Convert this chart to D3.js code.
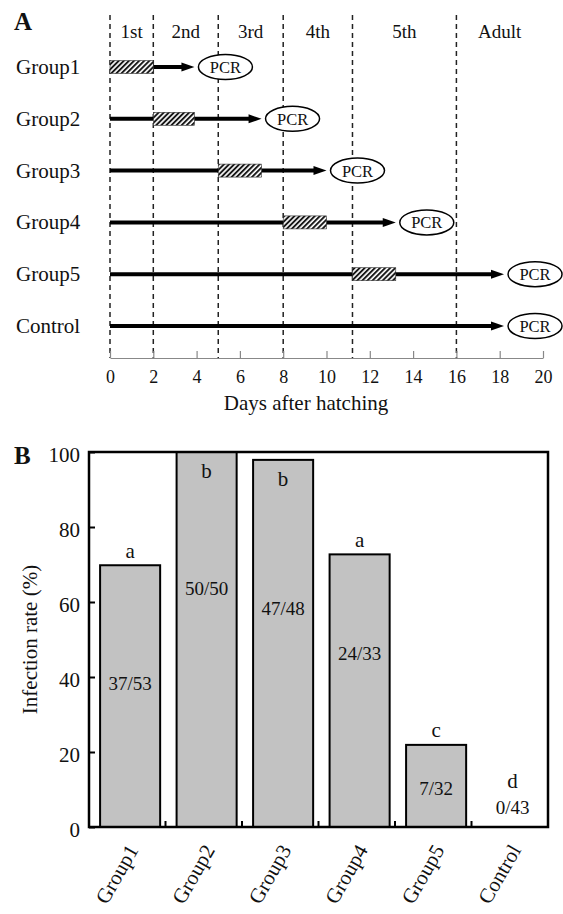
<!DOCTYPE html>
<html>
<head>
<meta charset="utf-8">
<script src="https://cdn.jsdelivr.net/npm/d3@7"></script>
<style>
  body { margin: 0; background: #fff; }
  text { font-family: "Liberation Serif", "Times New Roman", serif; fill: #111; }
</style>
</head>
<body>
<div id="chart"></div>
<script>
// ---- panel A: feeding schedule, days after hatching
const groups = ["Group1", "Group2", "Group3", "Group4", "Group5", "Control"];
const feedStart = [0, 2, 5, 8, 11.2, null];
const feedEnd = [2, 3.9, 7, 10, 13.2, null];
const pcrDay = [3.9, 7, 10, 13.2, 18.2, 18.2];   // arrow tip, PCR sits right after
const stageBounds = [0, 2, 5, 8, 11.2, 16];
const stages = ["1st", "2nd", "3rd", "4th", "5th", "Adult"];
const dayTicks = [0, 2, 4, 6, 8, 10, 12, 14, 16, 18, 20];

// ---- panel B: infection rate
const rate = [69.8, 100, 97.9, 72.7, 21.9, 0];
const counts = ["37/53", "50/50", "47/48", "24/33", "7/32", "0/43"];
const letters = ["a", "b", "b", "a", "c", "d"];
const countAt = [38.4, 63.7, 58.4, 46.4, 10.4, 5.3];   // where the n/N label sits (%)
const rateTicks = [0, 20, 40, 60, 80, 100];

const W = 563, H = 914;

const svg = d3.select("#chart")
  .append("svg")
    .attr("width", W)
    .attr("height", H)
    .style("background", "#fff");

// hatch pattern for the feeding period
svg.append("defs")
  .append("pattern")
    .attr("id", "hatch")
    .attr("patternUnits", "userSpaceOnUse")
    .attr("width", 3.6)
    .attr("height", 3.6)
    .attr("patternTransform", "rotate(45)")
  .call(p => {
    p.append("rect").attr("width", 3.6).attr("height", 3.6).attr("fill", "#fff");
    p.append("line").attr("x1", 1).attr("x2", 1).attr("y1", 0).attr("y2", 3.6)
      .attr("stroke", "#111").attr("stroke-width", 1.9);
  });

// ================= A =================
const x = d3.scaleLinear().domain([0, 20]).range([110, 543]);
const row = d3.scalePoint().domain(groups).range([67, 326]);
const axisY = 358;

svg.append("text")
  .attr("x", 14).attr("y", 30)
  .style("font-size", "25px").style("font-weight", "bold")
  .text("A");

// stage boundaries
svg.selectAll(".stage-line")
  .data(stageBounds)
  .join("line")
    .attr("x1", d => x(d)).attr("x2", d => x(d))
    .attr("y1", 15).attr("y2", axisY)
    .attr("stroke", "#222")
    .attr("stroke-width", 1.5)
    .attr("stroke-dasharray", "5,4");

// stage names centred in each stage
svg.selectAll(".stage-label")
  .data(stages)
  .join("text")
    .attr("x", (d, i) => (x(stageBounds[i]) + x(i < stages.length - 1 ? stageBounds[i + 1] : 20)) / 2)
    .attr("y", 38)
    .attr("text-anchor", "middle")
    .style("font-size", "19px")
    .text(d => d);

// axis
const gx = svg.append("g")
  .attr("transform", `translate(0, ${axisY})`)
  .call(d3.axisBottom(x).tickValues(dayTicks).tickSize(-7).tickPadding(12).tickSizeOuter(0));
gx.select(".domain").attr("stroke", "#888").attr("stroke-width", 1.2);
gx.selectAll(".tick line").attr("stroke", "#888").attr("stroke-width", 1.2);
gx.selectAll(".tick text")
  .style("font-family", "'Liberation Serif', serif")
  .style("font-size", "18px")
  .attr("fill", "#111");

svg.append("text")
  .attr("x", 306).attr("y", 410)
  .attr("text-anchor", "middle")
  .style("font-size", "21px")
  .text("Days after hatching");

// one row per group
groups.forEach((g, i) => {
  const yy = row(g);
  const tip = x(pcrDay[i]);

  svg.append("text")
    .attr("x", 16).attr("y", yy + 7)
    .style("font-size", "21px")
    .text(g);

  svg.append("line")
    .attr("x1", x(0)).attr("x2", tip - 10)
    .attr("y1", yy).attr("y2", yy)
    .attr("stroke", "#000").attr("stroke-width", 4);

  svg.append("path")
    .attr("d", `M${tip - 13},${yy - 4.5} L${tip},${yy} L${tip - 13},${yy + 4.5} Z`)
    .attr("fill", "#000");

  if (feedStart[i] !== null) {
    svg.append("rect")
      .attr("x", x(feedStart[i]))
      .attr("y", yy - 6.5)
      .attr("width", x(feedEnd[i]) - x(feedStart[i]))
      .attr("height", 13)
      .attr("fill", "url(#hatch)")
      .attr("stroke", "#333")
      .attr("stroke-width", 0.6);
  }

  svg.append("ellipse")
    .attr("cx", tip + 31).attr("cy", yy)
    .attr("rx", 27).attr("ry", 12.5)
    .attr("fill", "#fff")
    .attr("stroke", "#000")
    .attr("stroke-width", 1.5);

  svg.append("text")
    .attr("x", tip + 31).attr("y", yy + 6)
    .attr("text-anchor", "middle")
    .style("font-size", "16.5px")
    .text("PCR");
});

// ================= B =================
const bLeft = 89, bRight = 548, bTop = 452, bBottom = 827;
const xb = d3.scaleBand().domain(groups).range([bLeft, bRight]);
const y = d3.scaleLinear().domain([0, 100]).range([bBottom, bTop]);
const bw = xb.bandwidth();

svg.append("text")
  .attr("x", 14).attr("y", 464)
  .style("font-size", "25px").style("font-weight", "bold")
  .text("B");

// bars
svg.selectAll(".bar")
  .data(groups)
  .join("rect")
    .attr("x", d => xb(d) + bw * 0.145)
    .attr("width", bw * 0.785)
    .attr("y", (d, i) => y(rate[i]))
    .attr("height", (d, i) => y(0) - y(rate[i]))
    .attr("fill", "#c2c2c2")
    .attr("stroke", "#000")
    .attr("stroke-width", 2);

// frame
svg.append("rect")
  .attr("x", bLeft).attr("y", bTop)
  .attr("width", bRight - bLeft).attr("height", bBottom - bTop)
  .attr("fill", "none")
  .attr("stroke", "#000")
  .attr("stroke-width", 2.5);

// y axis, ticks pointing inside
const gy = svg.append("g")
  .attr("transform", `translate(${bLeft}, 0)`)
  .call(d3.axisLeft(y).tickValues(rateTicks).tickSizeInner(-6).tickSizeOuter(0).tickPadding(9));
gy.select(".domain").remove();
gy.selectAll(".tick line").attr("stroke", "#000").attr("stroke-width", 2);
gy.selectAll(".tick text")
  .style("font-family", "'Liberation Serif', serif")
  .style("font-size", "21px")
  .attr("fill", "#111")
  .attr("dy", "0.45em");

svg.append("text")
  .attr("transform", `translate(30, ${(bTop + bBottom) / 2}) rotate(-90)`)
  .attr("text-anchor", "middle")
  .attr("dy", "0.35em")
  .style("font-size", "21px")
  .text("Infection rate (%)");

// category separators on the bottom edge
svg.selectAll(".sep")
  .data(groups.slice(1))
  .join("line")
    .attr("x1", d => xb(d)).attr("x2", d => xb(d))
    .attr("y1", bBottom).attr("y2", bBottom - 6)
    .attr("stroke", "#000").attr("stroke-width", 2);

// significance letters
svg.selectAll(".letter")
  .data(letters)
  .join("text")
    .attr("x", (d, i) => xb(groups[i]) + bw * 0.145 + bw * 0.785 / 2)
    .attr("y", (d, i) => {
      if (rate[i] === 0) return y(0) - 45;
      return rate[i] > 90 ? y(rate[i]) + 20 : y(rate[i]) - 14;
    })
    .attr("dy", "0.3em")
    .attr("text-anchor", "middle")
    .style("font-size", "21px")
    .text(d => d);

// n/N counts
svg.selectAll(".count")
  .data(counts)
  .join("text")
    .attr("x", (d, i) => xb(groups[i]) + bw * 0.145 + bw * 0.785 / 2)
    .attr("y", (d, i) => y(countAt[i]))
    .attr("dy", "0.35em")
    .attr("text-anchor", "middle")
    .style("font-size", "19px")
    .text(d => d);

// rotated category names
svg.selectAll(".cat")
  .data(groups)
  .join("text")
    .attr("transform", d => `translate(${xb(d) + bw * 0.145 + bw * 0.785 / 2 + 9}, 850) rotate(-60)`)
    .attr("text-anchor", "end")
    .style("font-size", "21px")
    .text(d => d);
</script>
</body>
</html>
